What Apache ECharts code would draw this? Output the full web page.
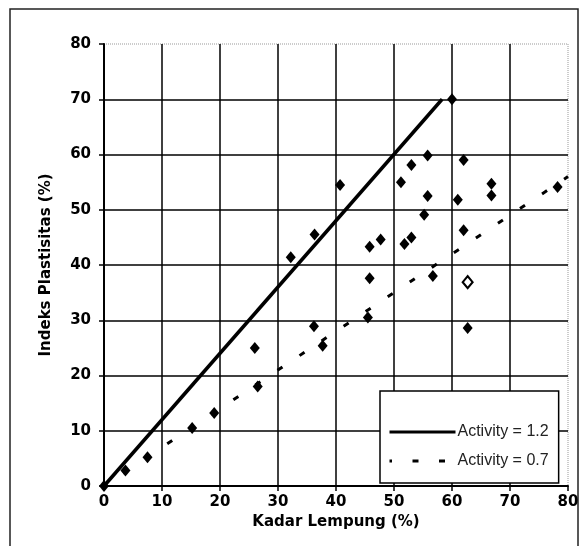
<!DOCTYPE html>
<html>
<head>
<meta charset="utf-8">
<script src="https://cdn.jsdelivr.net/npm/echarts@6/dist/echarts.min.js"></script>
</head>
<body style="margin:0;background:#fff;">
<div id="main" style="width:584px;height:546px;"></div>
<script>
// garis aktivitas (Kadar Lempung, Indeks Plastisitas)
var line12 = [[0, 0], [58.3, 70]];
var line07 = [[0, 0], [80, 56]];
// titik data sampel
var points = [
    [0, 0], [3.7, 2.8], [7.5, 5.2], [15.2, 10.5], [19, 13.2], [26, 25], [26.5, 18],
    [32.2, 41.4], [36.3, 45.5], [36.2, 28.9], [37.7, 25.4], [40.7, 54.5], [45.5, 30.5],
    [45.8, 43.3], [45.8, 37.6], [47.7, 44.6], [51.2, 55], [51.8, 43.8], [53, 58.1],
    [53, 45], [55.2, 49.1], [55.8, 59.8], [55.8, 52.5], [56.7, 38], [60, 70],
    [61, 51.8], [62, 59], [62, 46.3], [62.7, 28.6], [66.8, 54.7], [66.8, 52.6], [78.2, 54.1]
];
var hollowPoints = [[62.7, 36.9]];
var legendNames = ['Activity = 1.2', 'Activity = 0.7'];

var myChart = echarts.init(document.getElementById('main'));
var axisFont = {color: '#000', fontWeight: 'bold', fontSize: 15, fontFamily: 'DejaVu Sans'};
var nameFont = {color: '#000', fontWeight: 'bold', fontSize: 15, fontFamily: 'DejaVu Sans'};

var option = {
    animation: false,
    backgroundColor: '#fff',
    graphic: [{
        type: 'rect',
        shape: {x: 10, y: 9, width: 568, height: 560},
        style: {fill: 'none', stroke: '#222', lineWidth: 1.5}
    }],
    grid: {
        left: 104, top: 44, width: 464, height: 442,
        show: true, borderColor: '#999', borderWidth: 1, borderType: 'dotted'
    },
    legend: {
        data: legendNames,
        orient: 'vertical',
        left: 380, top: 391,
        padding: [33, 10, 14, 8],
        itemGap: 13,
        itemWidth: 66, itemHeight: 16,
        backgroundColor: '#fff',
        borderColor: '#000', borderWidth: 1.5,
        itemStyle: {opacity: 0},
        lineStyle: {width: 3},
        textStyle: {color: '#222', fontSize: 16, fontFamily: 'Liberation Sans', padding: [0, 0, 0, -3]}
    },
    xAxis: {
        type: 'value', min: 0, max: 80, interval: 10,
        name: 'Kadar Lempung (%)', nameLocation: 'middle', nameGap: 25,
        nameTextStyle: nameFont,
        axisLine: {lineStyle: {color: '#000', width: 2}},
        axisTick: {show: true, length: 5, lineStyle: {color: '#000', width: 1.5}},
        axisLabel: Object.assign({margin: 9}, axisFont),
        splitLine: {show: true, showMaxLine: false, lineStyle: {color: '#000', width: 1.5}}
    },
    yAxis: {
        type: 'value', min: 0, max: 80, interval: 10,
        name: 'Indeks Plastisitas (%)', nameLocation: 'middle', nameGap: 50,
        nameTextStyle: nameFont,
        axisLine: {lineStyle: {color: '#000', width: 2}},
        axisTick: {show: true, length: 5, lineStyle: {color: '#000', width: 1.5}},
        axisLabel: Object.assign({margin: 13}, axisFont),
        splitLine: {show: true, showMaxLine: false, lineStyle: {color: '#000', width: 1.5}}
    },
    series: [
        {
            name: legendNames[0], type: 'line', data: line12,
            symbol: 'none', itemStyle: {color: '#000'},
            lineStyle: {color: '#000', width: 3.5}
        },
        {
            name: legendNames[1], type: 'line', data: line07,
            symbol: 'none', itemStyle: {color: '#000'},
            lineStyle: {color: '#000', width: 3, type: [6, 20.5], dashOffset: 3.5}
        },
        {
            name: 'data', type: 'scatter', data: points,
            symbol: 'diamond', symbolSize: [10, 12],
            itemStyle: {color: '#000', opacity: 1}
        },
        {
            name: 'hollow', type: 'scatter', data: hollowPoints,
            symbol: 'diamond', symbolSize: [10, 12],
            itemStyle: {color: '#fff', borderColor: '#000', borderWidth: 2, opacity: 1}
        }
    ]
};
myChart.setOption(option);
</script>
</body>
</html>
